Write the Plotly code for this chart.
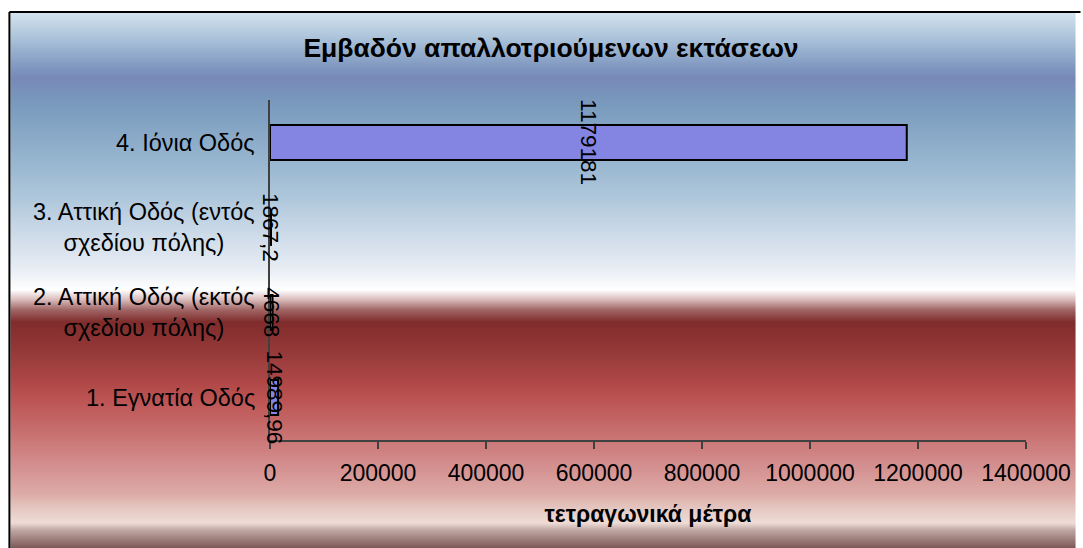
import base64
import struct
import zlib

import plotly.graph_objects as go

# ---------------- data ----------------
categories = [
    "1. Εγνατία Οδός",
    "2. Αττική Οδός (εκτός<br>σχεδίου πόλης)",
    "3. Αττική Οδός (εντός<br>σχεδίου πόλης)",
    "4. Ιόνια Οδός",
]
values = [14989.96, 4668, 1867.2, 1179181]
value_labels = ["14989,96", "4668", "1867,2", "1179181"]
x_ticks = [0, 200000, 400000, 600000, 800000, 1000000, 1200000, 1400000]
x_tick_labels = [str(v) for v in x_ticks]
chart_title = "Εμβαδόν απαλλοτριούμενων εκτάσεων"
x_title = "τετραγωνικά μέτρα"

# ---------------- layout geometry ----------------
W, H = 1083, 548
ML, MR, MT, MB = 270, 50, 100, 108
PW = W - ML - MR
PH = H - MT - MB
FONT = "Liberation Sans, Arial, sans-serif"


def px_x(p):
    return (p - ML) / PW


def px_y(p):
    return (H - MB - p) / PH


# ---------------- background gradient (vertical) ----------------
stops = [
    (12, (0xD4, 0xE4, 0xEE)),
    (40, (0xA8, 0xC0, 0xD8)),
    (67, (0x80, 0x98, 0xC0)),
    (78, (0x78, 0x88, 0xB8)),
    (100, (0x78, 0x98, 0xBC)),
    (150, (0x90, 0xB0, 0xCC)),
    (200, (0xB0, 0xC8, 0xDC)),
    (233, (0xCC, 0xDA, 0xE8)),
    (267, (0xE6, 0xEC, 0xF4)),
    (290, (0xFF, 0xFF, 0xFF)),
    (300, (0xD8, 0xB8, 0xB8)),
    (310, (0xA0, 0x64, 0x64)),
    (322, (0x80, 0x2C, 0x2C)),
    (350, (0x94, 0x38, 0x38)),
    (383, (0xB0, 0x48, 0x48)),
    (400, (0xBC, 0x54, 0x54)),
    (433, (0xC8, 0x70, 0x70)),
    (467, (0xD4, 0x90, 0x90)),
    (493, (0xDC, 0xAA, 0xA6)),
    (510, (0xE6, 0xCA, 0xC4)),
    (523, (0xEE, 0xDC, 0xD6)),
    (530, (0xC0, 0xA8, 0xA4)),
    (548, (0x7C, 0x58, 0x56)),
]


def color_at(y):
    for (y0, c0), (y1, c1) in zip(stops, stops[1:]):
        if y0 <= y <= y1:
            t = (y - y0) / (y1 - y0) if y1 > y0 else 0
            return tuple(int(round(a + (b - a) * t)) for a, b in zip(c0, c1))
    return stops[-1][1]


rows = [color_at(y + 0.5) for y in range(12, 548)]


def make_png(rows_rgb):
    raw = b"".join(b"\x00" + bytes(c) for c in rows_rgb)

    def chunk(tag, data):
        return (struct.pack(">I", len(data)) + tag + data
                + struct.pack(">I", zlib.crc32(tag + data) & 0xFFFFFFFF))

    ihdr = struct.pack(">IIBBBBB", 1, len(rows_rgb), 8, 2, 0, 0, 0)
    png = (b"\x89PNG\r\n\x1a\n" + chunk(b"IHDR", ihdr)
           + chunk(b"IDAT", zlib.compress(raw, 9)) + chunk(b"IEND", b""))
    return "data:image/png;base64," + base64.b64encode(png).decode()


bg_src = make_png(rows)

# ---------------- figure ----------------
fig = go.Figure()
fig.add_trace(go.Bar(
    y=categories,
    x=values,
    orientation="h",
    width=0.41,
    marker=dict(color="#8484e2", line=dict(color="black", width=2)),
    hoverinfo="x+y",
))

annotations = []
for cat in categories:
    annotations.append(dict(
        x=0, xref="x", y=cat, yref="y", text=cat, showarrow=False,
        xanchor="right", yanchor="middle", align="center", xshift=-13,
        font=dict(family=FONT, size=23.5, color="black"),
    ))
for cat, v, lab in zip(categories, values, value_labels):
    annotations.append(dict(
        x=v / 2, xref="x", y=cat, yref="y", text=lab, showarrow=False,
        textangle=90, xanchor="center", yanchor="middle",
        font=dict(family=FONT, size=22.5, color="black"),
    ))

fig.update_layout(
    width=W, height=H,
    margin=dict(l=ML, r=MR, t=MT, b=MB, pad=0),
    paper_bgcolor="white",
    plot_bgcolor="rgba(0,0,0,0)",
    showlegend=False,
    title=dict(
        text="<b>" + chart_title + "</b>",
        x=551 / W, xanchor="center", xref="container",
        y=1 - 48 / H, yanchor="middle", yref="container",
        font=dict(family=FONT, size=26.5, color="black"),
    ),
    xaxis=dict(
        range=[0, 1400000], tickvals=x_ticks, ticktext=x_tick_labels,
        showline=True, linecolor="#404040", linewidth=1.5,
        ticks="outside", ticklen=7, tickcolor="#404040", tickwidth=1.5,
        showgrid=False, zeroline=False, ticklabelstandoff=5,
        tickfont=dict(family=FONT, size=23, color="black"),
        title=dict(text="<b>" + x_title + "</b>", standoff=21,
                   font=dict(family=FONT, size=23, color="black")),
        fixedrange=True,
    ),
    yaxis=dict(
        type="category", categoryorder="array", categoryarray=categories,
        range=[-0.5, 3.5], showticklabels=False, ticks="",
        showline=True, linecolor="#404040", linewidth=1.5,
        showgrid=False, zeroline=False, fixedrange=True,
    ),
    annotations=annotations,
    images=[dict(
        source=bg_src, xref="paper", yref="paper",
        x=px_x(8), y=px_y(12), sizex=(W - 8) / PW, sizey=(H - 12) / PH,
        sizing="stretch", xanchor="left", yanchor="top", layer="below",
    )],
    shapes=[
        dict(type="line", xref="paper", yref="paper",
             x0=px_x(7), x1=px_x(W + 5), y0=px_y(12), y1=px_y(12),
             line=dict(color="black", width=2)),
        dict(type="line", xref="paper", yref="paper",
             x0=px_x(7), x1=px_x(7), y0=px_y(12), y1=px_y(H + 5),
             line=dict(color="black", width=2)),
    ],
)

fig.write_html("out.html")
